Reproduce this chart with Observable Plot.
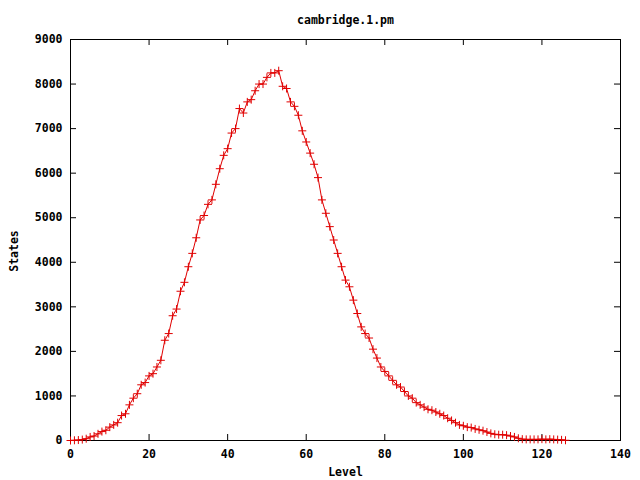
<!DOCTYPE html>
<html>
<head>
<meta charset="utf-8">
<script src="https://cdn.jsdelivr.net/npm/d3@7"></script>
<script src="https://cdn.jsdelivr.net/npm/@observablehq/plot@0.6"></script>
<style>
  html, body { margin: 0; padding: 0; background: #fff; }
  #chart svg { display: block; }
</style>
</head>
<body>
<div id="chart"></div>
<script>
const title = "cambridge.1.pm";
const xLabel = "Level";
const yLabel = "States";
const xTicks = [0, 20, 40, 60, 80, 100, 120, 140];
const yTicks = [0, 1000, 2000, 3000, 4000, 5000, 6000, 7000, 8000, 9000];
const states = [
  0, 5, 10, 20, 40, 80, 100, 150, 200, 230,
  300, 350, 400, 560, 600, 800, 950, 1050, 1250, 1300,
  1450, 1500, 1650, 1800, 2250, 2400, 2800, 2950, 3350, 3550,
  3900, 4200, 4550, 4950, 5050, 5300, 5400, 5750, 6100, 6400,
  6550, 6900, 7000, 7450, 7350, 7600, 7650, 7850, 8000, 8000,
  8150, 8250, 8250, 8300, 7950, 7900, 7600, 7500, 7300, 6950,
  6700, 6450, 6200, 5900, 5400, 5100, 4800, 4500, 4200, 3900,
  3600, 3450, 3150, 2850, 2550, 2400, 2300, 2050, 1850, 1650,
  1550, 1450, 1350, 1250, 1200, 1100, 1000, 950, 850, 800,
  750, 700, 680, 640, 600, 560, 500, 450, 400, 350,
  330, 300, 290, 260, 240, 220, 190, 160, 140, 130,
  130, 120, 100, 80, 50, 30, 25, 25, 25, 25,
  30, 25, 30, 25, 20, 15, 5
];
const levels = states.map((_, i) => i);
const data = levels.map((l, i) => ({level: l, states: states[i]}));

const plusSymbol = {
  draw(ctx, size) {
    const r = Math.sqrt(size / Math.PI);
    ctx.moveTo(-r, 0); ctx.lineTo(r, 0);
    ctx.moveTo(0, -r); ctx.lineTo(0, r);
  }
};

const red = "#e00000";
const font = "'DejaVu Sans Mono', monospace";
const W = 640, H = 480;
const mL = 70, mR = 20, mT = 39, mB = 40;
const fw = W - mL - mR, fh = H - mT - mB;
const tk = 6;

const chart = Plot.plot({
  width: W, height: H,
  marginLeft: mL, marginRight: mR, marginTop: mT, marginBottom: mB,
  style: {fontFamily: font, fontSize: "11.5px", fontWeight: "bold", color: "black", background: "white"},
  x: {domain: [0, 140]},
  y: {domain: [0, 9000]},
  marks: [
    Plot.axisX({ticks: xTicks, tickSize: 0, tickPadding: 9, tickFormat: d3.format("d"), label: null}),
    Plot.axisY({ticks: yTicks, tickSize: 0, tickPadding: 8, tickFormat: d3.format("d"), label: null}),
    Plot.tickX(xTicks, {x: d => d, stroke: "black", insetTop: fh - tk}),
    Plot.tickX(xTicks, {x: d => d, stroke: "black", insetBottom: fh - tk}),
    Plot.tickY(yTicks, {y: d => d, stroke: "black", insetRight: fw - tk}),
    Plot.tickY(yTicks, {y: d => d, stroke: "black", insetLeft: fw - tk}),
    Plot.frame({stroke: "black"}),
    Plot.line(data, {x: "level", y: "states", stroke: red, strokeWidth: 1}),
    Plot.dot(data, {x: "level", y: "states", symbol: plusSymbol, r: 4, stroke: red, fill: "none", strokeWidth: 1}),
    Plot.text([title], {frameAnchor: "top", dy: -24, text: d => d, fill: "black"}),
    Plot.text([xLabel], {frameAnchor: "bottom", dy: 35, text: d => d, fill: "black"}),
    Plot.text([yLabel], {frameAnchor: "left", textAnchor: "middle", dx: -56, dy: 11, rotate: -90, text: d => d, fill: "black"})
  ]
});
document.getElementById("chart").appendChild(chart);
</script>
</body>
</html>
